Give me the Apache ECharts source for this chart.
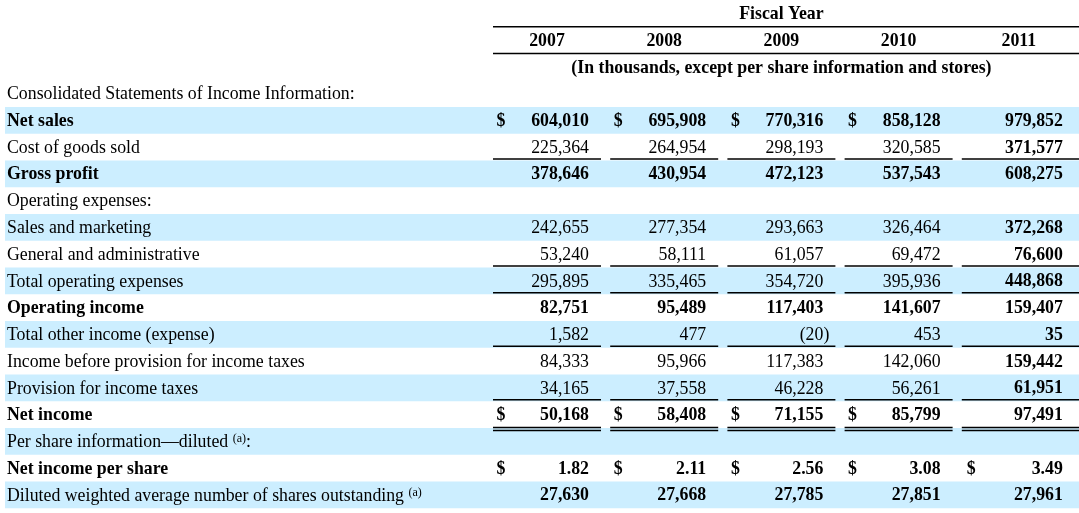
<!DOCTYPE html>
<html>
<head>
<meta charset="utf-8">
<script src="https://cdn.jsdelivr.net/npm/echarts@6/dist/echarts.min.js"></script>
<style>
html,body{margin:0;padding:0;background:#fff;}
#chart{width:1079px;height:513px;}
</style>
</head>
<body>
<div id="chart"></div>
<script>
// ---------------- DATA ----------------
const years = ['2007', '2008', '2009', '2010', '2011'];
const headerTitle = 'Fiscal Year';
const headerUnits = '(In thousands, except per share information and stores)';
const rowLabels = [
  'Consolidated Statements of Income Information:',
  'Net sales',
  'Cost of goods sold',
  'Gross profit',
  'Operating expenses:',
  'Sales and marketing',
  'General and administrative',
  'Total operating expenses',
  'Operating income',
  'Total other income (expense)',
  'Income before provision for income taxes',
  'Provision for income taxes',
  'Net income',
  'Per share information\u2014diluted {sup|(a)}:',
  'Net income per share',
  'Diluted weighted average number of shares outstanding {sup|(a)}'
];
const netSales        = [604010, 695908, 770316, 858128, 979852];
const costOfGoodsSold = [225364, 264954, 298193, 320585, 371577];
const grossProfit     = [378646, 430954, 472123, 537543, 608275];
const salesMarketing  = [242655, 277354, 293663, 326464, 372268];
const generalAdmin    = [53240, 58111, 61057, 69472, 76600];
const totalOpex       = [295895, 335465, 354720, 395936, 448868];
const operatingIncome = [82751, 95489, 117403, 141607, 159407];
const otherIncome     = [1582, 477, -20, 453, 35];
const incomeBeforeTax = [84333, 95966, 117383, 142060, 159442];
const provisionTax    = [34165, 37558, 46228, 56261, 61951];
const netIncome       = [50168, 58408, 71155, 85799, 97491];
const epsDiluted      = [1.82, 2.11, 2.56, 3.08, 3.49];
const dilutedShares   = [27630, 27668, 27785, 27851, 27961];

const tableValues = [
  null, netSales, costOfGoodsSold, grossProfit, null, salesMarketing,
  generalAdmin, totalOpex, operatingIncome, otherIncome, incomeBeforeTax,
  provisionTax, netIncome, null, epsDiluted, dilutedShares
];

// ---------------- STYLE ----------------
const FONT = '"Liberation Serif", "Times New Roman", serif';
const FS = 17.8;
const BLUE = '#cceeff';
const ROW_H = 26.75;
const N_HEAD = 3;
const nRows = N_HEAD + rowLabels.length;
const rowKeys = [];
for (let i = 0; i < nRows; i++) rowKeys.push('row' + i);

const rowFormat = [
  {},
  {labelBold: true, bold: true, dollar: [0, 1, 2, 3], shade: true},
  {rule: 'single'},
  {labelBold: true, bold: true, shade: true},
  {},
  {shade: true},
  {rule: 'single'},
  {shade: true, rule: 'single'},
  {labelBold: true, bold: true},
  {shade: true, rule: 'single'},
  {},
  {shade: true, rule: 'single'},
  {labelBold: true, bold: true, dollar: [0, 1, 2, 3], rule: 'double'},
  {shade: true},
  {labelBold: true, bold: true, dollar: [0, 1, 2, 3, 4], dec: 2},
  {bold: true, shade: true}
];

function fmt(v, dec) {
  const a = Math.abs(v).toLocaleString('en-US', {minimumFractionDigits: dec || 0, maximumFractionDigits: dec || 0});
  return v < 0 ? '(' + a + ')' : a;
}
function font(bold, size) {
  return (bold ? 'bold ' : '') + (size || FS) + 'px ' + FONT;
}

const chart = echarts.init(document.getElementById('chart'), null, {renderer: 'canvas'});

const hiddenAxis = {
  axisLine: {show: false}, axisTick: {show: false},
  axisLabel: {show: false}, splitLine: {show: false}
};

const bandData = rowKeys.map((k, i) => {
  const r = i - N_HEAD;
  return (r >= 0 && rowFormat[r].shade) ? 1 : '-';
});
const labelData = rowLabels.map((t, r) => [0, r + N_HEAD]);
const cellData = [];
tableValues.forEach((vals, r) => {
  if (!vals) return;
  vals.forEach((v, c) => cellData.push([c, r + N_HEAD]));
});
const headerData = [[0, 0]].concat(years.map((y, c) => [c, 1])).concat([[0, 2]]);

const COL_W = 118.4;
const gridW = COL_W * years.length;
const LAST = years.length - 1;

const option = {
  animation: false,
  backgroundColor: '#ffffff',
  grid: [
    {left: 5, right: 0, top: 0, height: nRows * ROW_H},
    {left: 493, width: gridW, top: 0, height: nRows * ROW_H}
  ],
  xAxis: [
    Object.assign({type: 'value', gridIndex: 0, min: 0, max: 1}, hiddenAxis),
    Object.assign({type: 'category', gridIndex: 1, data: years}, hiddenAxis)
  ],
  yAxis: [
    Object.assign({type: 'category', gridIndex: 0, data: rowKeys, inverse: true}, hiddenAxis),
    Object.assign({type: 'category', gridIndex: 1, data: rowKeys, inverse: true}, hiddenAxis)
  ],
  series: [
    {
      type: 'bar', xAxisIndex: 0, yAxisIndex: 0, z: 0,
      data: bandData, barCategoryGap: '0%', barWidth: '100%',
      itemStyle: {color: BLUE}, silent: true
    },
    {
      type: 'custom', xAxisIndex: 0, yAxisIndex: 0, z: 10,
      data: labelData, encode: {x: 0, y: 1}, silent: true,
      renderItem: function (params, api) {
        const r = params.dataIndex;
        const p = api.coord([0, r + N_HEAD]);
        const bold = !!rowFormat[r].labelBold;
        return {
          type: 'text', z2: 10,
          style: {
            text: rowLabels[r],
            x: p[0] + 2, y: p[1] + 1,
            align: 'left', verticalAlign: 'middle',
            font: font(bold), fill: '#000',
            rich: {
              sup: {fontSize: 12, fontFamily: FONT, verticalAlign: 'top', padding: [0, 0, 7, 0], fill: '#000'}
            }
          }
        };
      }
    },
    {
      type: 'custom', xAxisIndex: 1, yAxisIndex: 1, z: 10,
      data: cellData, encode: {x: 0, y: 1}, silent: true,
      renderItem: function (params, api) {
        const col = api.value(0), row = api.value(1);
        const r = row - N_HEAD;
        const f = rowFormat[r];
        const v = tableValues[r][col];
        const c = api.coord([col, row]);
        const sz = api.size([1, 1]);
        const left = c[0] - sz[0] / 2;
        const bottom = c[1] + sz[1] / 2;
        const bold = !!f.bold || col === LAST;
        const valRight = left + 96 + (col === LAST ? 5 : 0) + (v < 0 ? 5.9 : 0);
        const children = [];
        children.push({
          type: 'text', z2: 10,
          style: {
            text: fmt(v, f.dec), x: valRight, y: c[1] + 1,
            align: 'right', verticalAlign: 'middle', font: font(bold), fill: '#000'
          }
        });
        if (f.dollar && f.dollar.indexOf(col) >= 0) {
          children.push({
            type: 'text', z2: 10,
            style: {text: '$', x: left + 3.5 + (col === LAST ? 1.5 : 0), y: c[1] + 1, align: 'left', verticalAlign: 'middle', font: font(true), fill: '#000'}
          });
        }
        const ruleRight = col === LAST ? left + sz[0] : left + 108;
        if (f.rule === 'single') {
          children.push({type: 'line', z2: 10, shape: {x1: left, y1: bottom - 1.5, x2: ruleRight, y2: bottom - 1.5},
            style: {stroke: '#000', lineWidth: 1.6}});
        } else if (f.rule === 'double') {
          children.push({type: 'line', z2: 10, shape: {x1: left, y1: bottom - 0.5, x2: ruleRight, y2: bottom - 0.5},
            style: {stroke: '#000', lineWidth: 1.3}});
          children.push({type: 'line', z2: 10, shape: {x1: left, y1: bottom + 2.5, x2: ruleRight, y2: bottom + 2.5},
            style: {stroke: '#000', lineWidth: 1.3}});
        }
        return {type: 'group', children: children};
      }
    },
    {
      type: 'custom', xAxisIndex: 1, yAxisIndex: 1, z: 10,
      data: headerData, encode: {x: 0, y: 1}, silent: true,
      renderItem: function (params, api) {
        const col = api.value(0), row = api.value(1);
        const c = api.coord([col, row]);
        const sz = api.size([1, 1]);
        const first = api.coord([0, row]);
        const last = api.coord([LAST, row]);
        const x0 = first[0] - sz[0] / 2;
        const x1 = last[0] + sz[0] / 2;
        const mid = (x0 + (last[0] - sz[0] / 2 + 108)) / 2;
        const bottom = c[1] + sz[1] / 2;
        const top = c[1] - sz[1] / 2;
        if (row === 0) {
          return {type: 'group', children: [
            {type: 'text', style: {text: headerTitle, x: mid, y: c[1] + 1, align: 'center', verticalAlign: 'middle', font: font(true), fill: '#000'}},
            {type: 'line', shape: {x1: x0, y1: bottom, x2: x1, y2: bottom}, style: {stroke: '#000', lineWidth: 1.6}}
          ]};
        } else if (row === 1) {
          const left = c[0] - sz[0] / 2;
          return {type: 'text', style: {text: years[col], x: left + 54 + (col === LAST ? 3 : 0), y: c[1] + 1, align: 'center', verticalAlign: 'middle', font: font(true), fill: '#000'}};
        } else {
          return {type: 'group', children: [
            {type: 'text', style: {text: headerUnits, x: mid, y: c[1] + 2, align: 'center', verticalAlign: 'middle', font: font(true), fill: '#000'}},
            {type: 'line', shape: {x1: x0, y1: top, x2: x1, y2: top}, style: {stroke: '#000', lineWidth: 1.6}}
          ]};
        }
      }
    }
  ]
};
chart.setOption(option);
</script>
</body>
</html>
